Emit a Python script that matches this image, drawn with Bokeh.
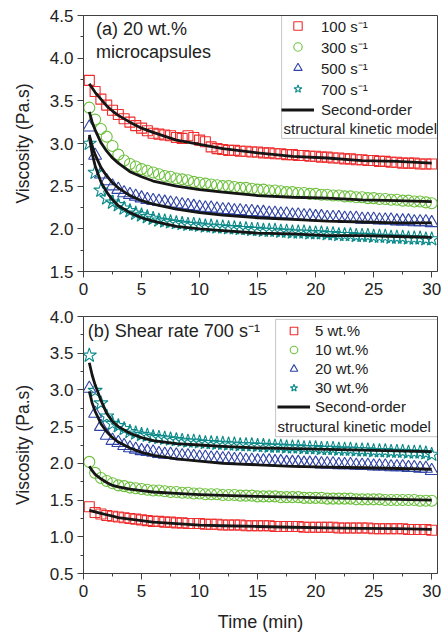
from bokeh.plotting import figure
from bokeh.models import (FixedTicker, NumeralTickFormatter, Legend, LegendItem,
                          Label, BoxAnnotation, Range1d)
from bokeh.layouts import column
from bokeh.embed import file_html
from bokeh.resources import INLINE

# ---------------- data ----------------
time_min = [0.5, 1.0, 1.5, 2.0, 2.5, 3.0, 3.5, 4.0, 4.5, 5.0,
            5.5, 6.0, 6.5, 7.0, 7.5, 8.0, 8.5, 9.0, 9.5, 10.0,
            10.5, 11.0, 11.5, 12.0, 12.5, 13.0, 13.5, 14.0, 14.5, 15.0,
            15.5, 16.0, 16.5, 17.0, 17.5, 18.0, 18.5, 19.0, 19.5, 20.0,
            20.5, 21.0, 21.5, 22.0, 22.5, 23.0, 23.5, 24.0, 24.5, 25.0,
            25.5, 26.0, 26.5, 27.0, 27.5, 28.0, 28.5, 29.0, 29.5, 30.0]

# (a) 20 wt.% microcapsules, different shear rates
a_100 = [3.74, 3.61, 3.52, 3.45, 3.39, 3.34, 3.29, 3.25, 3.21, 3.18,
         3.15, 3.12, 3.11, 3.10, 3.09, 3.07, 3.06, 3.09, 3.07, 3.04,
         3.02, 2.96, 2.94, 2.93, 2.92, 2.92, 2.91, 2.91, 2.90, 2.90,
         2.89, 2.89, 2.88, 2.88, 2.87, 2.87, 2.86, 2.86, 2.85, 2.85,
         2.84, 2.84, 2.83, 2.83, 2.82, 2.82, 2.81, 2.81, 2.80, 2.80,
         2.79, 2.79, 2.78, 2.78, 2.77, 2.77, 2.77, 2.76, 2.76, 2.76]
a_300 = [3.42, 3.28, 3.17, 3.08, 2.97, 2.87, 2.80, 2.76, 2.73, 2.70,
         2.68, 2.66, 2.64, 2.62, 2.61, 2.59, 2.58, 2.57, 2.55, 2.54,
         2.53, 2.52, 2.51, 2.50, 2.50, 2.49, 2.48, 2.48, 2.47, 2.46,
         2.46, 2.45, 2.45, 2.44, 2.43, 2.43, 2.42, 2.42, 2.41, 2.41,
         2.40, 2.40, 2.39, 2.39, 2.38, 2.38, 2.37, 2.37, 2.36, 2.36,
         2.35, 2.35, 2.34, 2.34, 2.33, 2.33, 2.32, 2.32, 2.31, 2.30]
a_500 = [3.19, 2.86, 2.64, 2.56, 2.50, 2.46, 2.42, 2.40, 2.38, 2.36,
         2.34, 2.33, 2.32, 2.31, 2.30, 2.29, 2.28, 2.27, 2.26, 2.25,
         2.24, 2.24, 2.23, 2.22, 2.22, 2.21, 2.21, 2.20, 2.20, 2.19,
         2.19, 2.18, 2.18, 2.17, 2.17, 2.16, 2.16, 2.15, 2.15, 2.14,
         2.14, 2.13, 2.13, 2.13, 2.12, 2.12, 2.12, 2.11, 2.11, 2.11,
         2.10, 2.10, 2.10, 2.09, 2.09, 2.09, 2.08, 2.08, 2.08, 2.07]
a_700 = [3.00, 2.66, 2.45, 2.36, 2.31, 2.28, 2.24, 2.21, 2.18, 2.16,
         2.14, 2.12, 2.10, 2.09, 2.08, 2.07, 2.06, 2.05, 2.05, 2.04,
         2.03, 2.03, 2.02, 2.02, 2.01, 2.01, 2.00, 2.00, 1.99, 1.99,
         1.98, 1.98, 1.98, 1.97, 1.97, 1.96, 1.96, 1.96, 1.95, 1.95,
         1.95, 1.94, 1.94, 1.93, 1.93, 1.93, 1.92, 1.92, 1.92, 1.91,
         1.91, 1.91, 1.90, 1.90, 1.90, 1.89, 1.89, 1.89, 1.88, 1.88]

# (b) shear rate 700 1/s, different concentrations
b_5 = [1.41, 1.33, 1.31, 1.29, 1.28, 1.27, 1.26, 1.25, 1.24, 1.23,
       1.22, 1.21, 1.21, 1.20, 1.20, 1.19, 1.19, 1.18, 1.18, 1.18,
       1.17, 1.17, 1.17, 1.16, 1.16, 1.16, 1.16, 1.15, 1.15, 1.15,
       1.15, 1.15, 1.14, 1.14, 1.14, 1.14, 1.14, 1.13, 1.13, 1.13,
       1.13, 1.13, 1.13, 1.12, 1.12, 1.12, 1.12, 1.12, 1.12, 1.11,
       1.11, 1.11, 1.11, 1.11, 1.11, 1.10, 1.10, 1.10, 1.10, 1.09]
b_10 = [2.02, 1.87, 1.80, 1.76, 1.73, 1.70, 1.69, 1.67, 1.66, 1.65,
        1.64, 1.63, 1.63, 1.62, 1.61, 1.61, 1.60, 1.60, 1.59, 1.59,
        1.58, 1.58, 1.58, 1.57, 1.57, 1.57, 1.56, 1.56, 1.56, 1.55,
        1.55, 1.55, 1.55, 1.54, 1.54, 1.54, 1.54, 1.53, 1.53, 1.53,
        1.53, 1.52, 1.52, 1.52, 1.52, 1.52, 1.51, 1.51, 1.51, 1.51,
        1.51, 1.50, 1.50, 1.50, 1.50, 1.50, 1.50, 1.49, 1.49, 1.49]
b_20 = [3.02, 2.68, 2.50, 2.38, 2.31, 2.28, 2.24, 2.21, 2.19, 2.17,
        2.16, 2.15, 2.13, 2.12, 2.12, 2.11, 2.10, 2.10, 2.09, 2.08,
        2.08, 2.07, 2.07, 2.06, 2.06, 2.05, 2.05, 2.04, 2.04, 2.03,
        2.03, 2.03, 2.02, 2.02, 2.01, 2.01, 2.01, 2.00, 2.00, 2.00,
        1.99, 1.99, 1.99, 1.98, 1.98, 1.98, 1.97, 1.97, 1.97, 1.96,
        1.96, 1.96, 1.95, 1.95, 1.95, 1.94, 1.94, 1.93, 1.93, 1.90]
b_30 = [3.47, 2.99, 2.82, 2.64, 2.54, 2.51, 2.47, 2.43, 2.41, 2.39,
        2.38, 2.36, 2.35, 2.34, 2.33, 2.32, 2.31, 2.30, 2.30, 2.29,
        2.28, 2.28, 2.27, 2.27, 2.26, 2.26, 2.25, 2.25, 2.25, 2.24,
        2.24, 2.23, 2.23, 2.23, 2.22, 2.22, 2.22, 2.21, 2.21, 2.21,
        2.20, 2.20, 2.20, 2.19, 2.19, 2.19, 2.18, 2.18, 2.18, 2.17,
        2.17, 2.17, 2.16, 2.16, 2.16, 2.15, 2.15, 2.15, 2.14, 2.12]

# second-order structural kinetic model curves
fit_time = [0.5, 0.75, 1, 1.5, 2, 2.5, 3, 4, 5, 6, 8, 10, 12, 15, 18, 21, 24, 27, 30]
fit_a_100 = [3.70, 3.65, 3.60, 3.52, 3.44, 3.38, 3.33, 3.25, 3.18, 3.13, 3.04, 2.99, 2.94, 2.89, 2.85, 2.83, 2.80, 2.79, 2.77]
fit_a_300 = [3.37, 3.25, 3.16, 3.01, 2.91, 2.83, 2.77, 2.67, 2.61, 2.56, 2.50, 2.46, 2.43, 2.39, 2.37, 2.36, 2.34, 2.33, 2.32]
fit_a_500 = [3.10, 2.97, 2.87, 2.72, 2.62, 2.54, 2.48, 2.39, 2.33, 2.29, 2.23, 2.19, 2.16, 2.13, 2.11, 2.09, 2.08, 2.07, 2.07]
fit_a_700 = [3.08, 2.88, 2.74, 2.55, 2.43, 2.34, 2.27, 2.19, 2.13, 2.09, 2.03, 2.00, 1.98, 1.95, 1.94, 1.92, 1.92, 1.91, 1.90]
fit_b_5 = [1.36, 1.35, 1.34, 1.32, 1.30, 1.28, 1.26, 1.24, 1.22, 1.20, 1.18, 1.16, 1.15, 1.14, 1.13, 1.12, 1.115, 1.11, 1.10]
fit_b_10 = [1.96, 1.90, 1.85, 1.79, 1.74, 1.70, 1.68, 1.65, 1.63, 1.61, 1.59, 1.575, 1.565, 1.55, 1.54, 1.53, 1.52, 1.51, 1.50]
fit_b_20 = [2.98, 2.82, 2.71, 2.54, 2.43, 2.35, 2.29, 2.21, 2.15, 2.11, 2.06, 2.03, 2.00, 1.98, 1.96, 1.95, 1.94, 1.93, 1.92]
fit_b_30 = [3.37, 3.20, 3.07, 2.86, 2.68, 2.57, 2.50, 2.41, 2.35, 2.31, 2.27, 2.25, 2.23, 2.21, 2.20, 2.19, 2.18, 2.17, 2.16]

labels_a = ["100 s\u207b\u00b9", "300 s\u207b\u00b9", "500 s\u207b\u00b9", "700 s\u207b\u00b9"]
labels_b = ["5 wt.%", "10 wt.%", "20 wt.%", "30 wt.%"]
fit_label = "Second-order"
fit_label2 = "structural kinetic model"

x_ticks = [0, 5, 10, 15, 20, 25, 30]
y_ticks_a = [1.5, 2.0, 2.5, 3.0, 3.5, 4.0, 4.5]
y_ticks_b = [0.5, 1.0, 1.5, 2.0, 2.5, 3.0, 3.5, 4.0]

# ---------------- styles ----------------
RED = "#ef2b2b"
GREEN = "#6cc03c"
BLUE = "#2f43a6"
TEAL = "#0b8a8a"
FONT = "Liberation Sans"
AX = "#404040"
TXT = "#222222"

markers = [("square", 10, RED), ("circle", 11, GREEN), ("triangle", 13, BLUE), ("star", 15, TEAL)]


def midpoints(t):
    return [(t[i] + t[i + 1]) / 2 for i in range(len(t) - 1)]


def make_fig(height, yr, yticks, btop, bbot, xlabel):
    p = figure(width=443, height=height, x_range=Range1d(0, 30.5), y_range=Range1d(*yr),
               output_backend="svg", toolbar_location=None,
               min_border_left=83, min_border_right=6, min_border_top=btop, min_border_bottom=bbot)
    p.grid.visible = False
    p.outline_line_color = AX
    p.outline_line_width = 1
    p.background_fill_color = "white"
    p.border_fill_color = "white"
    p.xaxis.ticker = FixedTicker(ticks=x_ticks, minor_ticks=midpoints(x_ticks))
    p.yaxis.ticker = FixedTicker(ticks=yticks, minor_ticks=midpoints(yticks))
    p.yaxis.formatter = NumeralTickFormatter(format="0.0")
    for ax in (p.xaxis, p.yaxis):
        ax.axis_line_color = AX
        ax.major_tick_line_color = AX
        ax.minor_tick_line_color = AX
        ax.major_tick_in = 0
        ax.major_tick_out = 6
        ax.minor_tick_in = 0
        ax.minor_tick_out = 3
        ax.major_label_text_font = FONT
        ax.major_label_text_font_size = "17px"
        ax.major_label_text_color = TXT
        ax.axis_label_text_font = FONT
        ax.axis_label_text_font_style = "normal"
        ax.axis_label_text_color = TXT
    p.yaxis.major_label_standoff = 4
    p.yaxis.axis_label = "Viscosity (Pa.s)"
    p.yaxis.axis_label_text_font_size = "17.5px"
    p.yaxis.axis_label_standoff = 14
    p.xaxis.major_label_standoff = 5
    if xlabel:
        p.xaxis.axis_label = xlabel
        p.xaxis.axis_label_text_font_size = "18px"
        p.xaxis.axis_label_standoff = 12
    return p


def add_series(p, series, fits, labels, row_h, loc, standoff):
    items = []
    for (mk, sz, col), ys, lab in zip(markers, series, labels):
        r = p.scatter(time_min, ys, marker=mk, size=sz, fill_alpha=0,
                      line_color=col, line_width=1.1)
        items.append(LegendItem(label=lab, renderers=[r]))
    lr = None
    for fy in fits:
        lr = p.line(fit_time, fy, line_color="#151515", line_width=2.8, line_join="round")
    items.append(LegendItem(label=fit_label, renderers=[lr]))
    leg = Legend(items=items, location=loc, glyph_width=33, glyph_height=row_h,
                 label_height=row_h, spacing=0, padding=0, margin=0,
                 label_standoff=standoff, label_text_font=FONT,
                 label_text_font_size="15px", label_text_color=TXT,
                 border_line_alpha=0, background_fill_alpha=0)
    p.add_layout(leg, "center")


# ---------------- panel (a) ----------------
p1 = make_fig(306, (1.5, 4.5), y_ticks_a, 15, 35, None)
add_series(p1, [a_100, a_300, a_500, a_700],
           [fit_a_100, fit_a_300, fit_a_500, fit_a_700], labels_a, 21, (198, 151), 7)
p1.add_layout(BoxAnnotation(left=17.07, bottom=3.06, fill_alpha=0,
                            line_color=AX, line_width=1))
p1.add_layout(Label(x=17.24, y=3.177, text=fit_label2, text_font=FONT,
                    text_font_size="15px", text_baseline="middle", text_color=TXT))
p1.add_layout(Label(x=1.08, y=4.344, text="(a) 20 wt.%", text_font=FONT,
                    text_font_size="18px", text_baseline="middle", text_color=TXT))
p1.add_layout(Label(x=1.08, y=4.078, text="microcapsules", text_font=FONT,
                    text_font_size="18px", text_baseline="middle", text_color=TXT))

# ---------------- panel (b) ----------------
p2 = make_fig(329, (0.5, 4.0), y_ticks_b, 10, 62, "Time (min)")
add_series(p2, [b_5, b_10, b_20, b_30],
           [fit_b_5, fit_b_10, fit_b_20, fit_b_30], labels_b, 19, (194, 157), 5)
p2.add_layout(BoxAnnotation(left=16.55, top=3.96, bottom=2.363, fill_alpha=0,
                            line_color=AX, line_width=1))
p2.add_layout(Label(x=16.72, y=2.50, text=fit_label2, text_font=FONT,
                    text_font_size="15px", text_baseline="middle", text_color=TXT))
p2.add_layout(Label(x=0.37, y=3.80, text="(b) Shear rate 700 s\u207b\u00b9", text_font=FONT,
                    text_font_size="18px", text_baseline="middle", text_color=TXT))

layout = column(p1, p2)
open("out.html", "w").write(file_html(layout, INLINE))
